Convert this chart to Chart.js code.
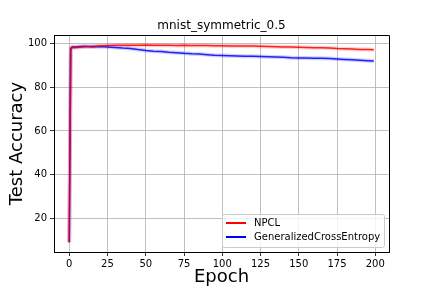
<!DOCTYPE html>
<html>
<head>
<meta charset="utf-8">
<script src="https://cdn.jsdelivr.net/npm/chart.js@4"></script>
<style>
  html, body { margin: 0; padding: 0; background: #fff; }
  #wrap { width: 432px; height: 288px; }
</style>
</head>
<body>
<div id="wrap"><canvas id="chart" width="432" height="288"></canvas></div>
<script>
/* ---------- data ---------- */
const epochs = [0, 1, 2, 3, 5, 10, 15, 20, 25, 30, 35, 40, 45, 50, 55, 60, 65, 70, 75, 80, 85, 90, 95,
    100, 105, 110, 115, 120, 125, 130, 135, 140, 145, 150, 155, 160, 165, 170, 175, 180, 185, 190, 195, 199];

const npcl = [9.0, 98.0, 98.6, 98.2, 98.3, 98.6, 98.8, 99.0, 99.2, 99.3, 99.3, 99.3, 99.3, 99.4, 99.3, 99.3,
    99.3, 99.2, 99.3, 99.2, 99.2, 99.2, 99.1,
    99.1, 99.0, 99.0, 98.9, 98.9, 98.8, 98.7, 98.6, 98.5, 98.5, 98.4, 98.3, 98.2, 98.1, 98.0, 97.8, 97.7, 97.6, 97.4, 97.3, 97.2];

const gce = [9.0, 97.5, 98.3, 98.5, 98.6, 98.8, 98.5, 98.7, 98.5, 98.3, 98.0, 97.8, 97.3, 96.9, 96.6, 96.4,
    96.1, 95.9, 95.6, 95.4, 95.3, 95.0, 94.7,
    94.6, 94.5, 94.4, 94.3, 94.2, 94.1, 94.0, 93.9, 93.8, 93.6, 93.5, 93.4, 93.3, 93.3, 93.2, 93.0, 92.8, 92.6, 92.4, 92.2, 92.1];

const seriesLabels = ['NPCL', 'GeneralizedCrossEntropy'];
const chartTitle = 'mnist_symmetric_0.5';
const xTicks = [0, 25, 50, 75, 100, 125, 150, 175, 200];
const yTicks = [20, 40, 60, 80, 100];

Chart.defaults.font.family = "'DejaVu Sans', sans-serif";
Chart.defaults.color = '#000';

const pts = arr => arr.map((v, i) => ({ x: epochs[i], y: v }));

/* ---------- title over the plot, spines, and a matplotlib-like legend ---------- */
const mplDecor = {
    id: 'mplDecor',
    afterDraw(chart) {
        const ctx = chart.ctx;
        const a = chart.chartArea;
        ctx.save();

        // title centred on the axes
        ctx.font = "12px 'DejaVu Sans', sans-serif";
        ctx.fillStyle = '#000';
        ctx.textAlign = 'center';
        ctx.textBaseline = 'alphabetic';
        ctx.fillText(chartTitle, (a.left + a.right) / 2, a.top - 6);

        // top and right spines
        ctx.strokeStyle = '#000';
        ctx.lineWidth = 1;
        ctx.beginPath();
        ctx.moveTo(a.left, a.top + 0.5);
        ctx.lineTo(a.right + 0.5, a.top + 0.5);
        ctx.lineTo(a.right + 0.5, a.bottom);
        ctx.stroke();

        // legend box
        const w = 162, h = 33;
        const x = a.right - 5 - w, y = a.bottom - 5 - h;
        ctx.fillStyle = 'rgba(255,255,255,0.8)';
        ctx.strokeStyle = '#cccccc';
        ctx.beginPath();
        ctx.roundRect(x + 0.5, y + 0.5, w, h, 2);
        ctx.fill();
        ctx.stroke();
        const colors = ['#ff0000', '#0000ff'];
        ctx.font = "10px 'DejaVu Sans', sans-serif";
        ctx.textAlign = 'left';
        ctx.textBaseline = 'middle';
        seriesLabels.forEach((lab, i) => {
            const ly = y + 9 + i * 14;
            ctx.strokeStyle = colors[i];
            ctx.lineWidth = 2;
            ctx.beginPath();
            ctx.moveTo(x + 4, ly);
            ctx.lineTo(x + 24, ly);
            ctx.stroke();
            ctx.fillStyle = '#000';
            ctx.fillText(lab, x + 32, ly);
        });
        ctx.restore();
    }
};

new Chart(document.getElementById('chart'), {
    type: 'line',
    data: {
        datasets: [
            {
                label: seriesLabels[0] + ' band',
                data: pts(npcl),
                borderColor: 'rgba(255,0,0,0.18)',
                borderWidth: 4,
                pointRadius: 0,
                tension: 0
            },
            {
                label: seriesLabels[1] + ' band',
                data: pts(gce),
                borderColor: 'rgba(0,0,255,0.18)',
                borderWidth: 4,
                pointRadius: 0,
                tension: 0
            },
            {
                label: seriesLabels[0],
                data: pts(npcl),
                borderColor: 'rgba(255,0,0,0.85)',
                borderWidth: 1.5,
                pointRadius: 0,
                tension: 0
            },
            {
                label: seriesLabels[1],
                data: pts(gce),
                borderColor: 'rgba(0,0,255,0.85)',
                borderWidth: 1.5,
                pointRadius: 0,
                tension: 0
            }
        ]
    },
    options: {
        responsive: false,
        animation: false,
        layout: { padding: { left: 0, right: 43, top: 35, bottom: 0 } },
        plugins: {
            legend: { display: false },
            tooltip: { enabled: false },
            title: { display: false }
        },
        scales: {
            x: {
                type: 'linear',
                min: -9.95,
                max: 208.95,
                afterBuildTicks: s => { s.ticks = xTicks.map(v => ({ value: v })); },
                afterFit: s => { s.height = 36; },
                grid: { color: '#b0b0b0', lineWidth: 0.8, tickColor: '#000', tickLength: 4 },
                border: { color: '#000', width: 1 },
                ticks: { font: { size: 10 }, padding: 2, maxRotation: 0 },
                title: { display: true, text: 'Epoch', font: { size: 18 }, padding: { top: 0, bottom: 0 } }
            },
            y: {
                type: 'linear',
                min: 4.5,
                max: 104,
                afterBuildTicks: s => { s.ticks = yTicks.map(v => ({ value: v })); },
                afterFit: s => { s.width = 54; },
                grid: { color: '#b0b0b0', lineWidth: 0.8, tickColor: '#000', tickLength: 4 },
                border: { color: '#000', width: 1 },
                ticks: { font: { size: 10 }, padding: 3 },
                title: { display: true, text: 'Test Accuracy', font: { size: 18 }, padding: { top: 7, bottom: 2 } }
            }
        }
    },
    plugins: [mplDecor]
});
</script>
</body>
</html>
